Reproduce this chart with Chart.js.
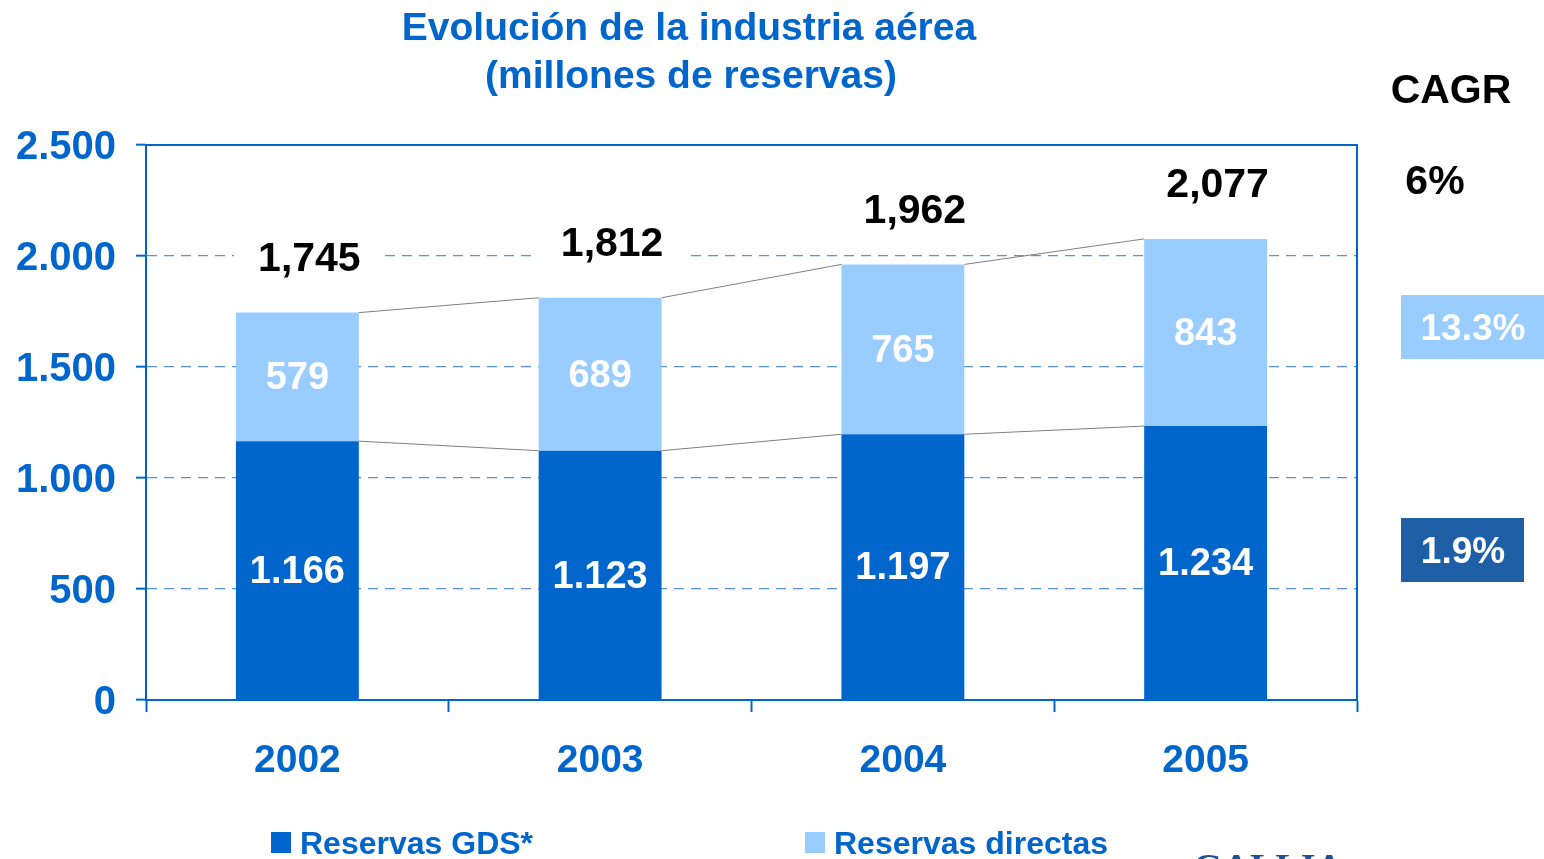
<!DOCTYPE html>
<html>
<head>
<meta charset="utf-8">
<script src="https://cdn.jsdelivr.net/npm/chart.js@4.4.1/dist/chart.umd.min.js"></script>
<style>
  html, body { margin: 0; padding: 0; background: #fff; overflow: hidden; }
  canvas { display: block; }
</style>
</head>
<body>
<canvas id="reservasChart" width="1544" height="859"></canvas>
<script>
// data
const years = ['2002', '2003', '2004', '2005'];
const reservasGds = [1166, 1123, 1197, 1234];
const reservasDirectas = [579, 689, 765, 843];
const yTicks = [0, 500, 1000, 1500, 2000, 2500];
const titleLines = ['Evolución de la industria aérea', '(millones de reservas)'];
const cagrLabel = 'CAGR';
const cagrTotal = '6%';
const cagrDirectas = '13.3%';
const cagrGds = '1.9%';

const FONT = '"Liberation Sans", Arial, Helvetica, sans-serif';
const BLUE = '#0066CC';
const LIGHT = '#99CCFF';
const DARK_BOX = '#1E5FA6';

// 1166 -> "1.166", used for ticks and segments
function dotFmt(v) {
  return String(v).replace(/\B(?=(\d{3})+(?!\d))/g, '.');
}
// totals use a comma
function commaFmt(v) {
  return String(v).replace(/\B(?=(\d{3})+(?!\d))/g, ',');
}

const extras = {
  id: 'extras',
  beforeDatasetsDraw(chart) {
    const { ctx, chartArea: a } = chart;
    // frame: top and right edge
    ctx.save();
    ctx.strokeStyle = BLUE;
    ctx.lineWidth = 2;
    ctx.beginPath();
    ctx.moveTo(a.left, a.top);
    ctx.lineTo(a.right, a.top);
    ctx.lineTo(a.right, a.bottom);
    ctx.stroke();
    ctx.restore();
  },
  afterDatasetsDraw(chart) {
    const { ctx } = chart;
    const gdsBars = chart.getDatasetMeta(0).data;
    const dirBars = chart.getDatasetMeta(1).data;

    // thin connectors between bar tops
    ctx.save();
    ctx.strokeStyle = '#7f7f7f';
    ctx.lineWidth = 1;
    [gdsBars, dirBars].forEach(bars => {
      for (let i = 0; i < bars.length - 1; i++) {
        const b = bars[i], n = bars[i + 1];
        ctx.beginPath();
        ctx.moveTo(b.x + b.width / 2, b.y);
        ctx.lineTo(n.x - n.width / 2, n.y);
        ctx.stroke();
      }
    });
    ctx.restore();

    // labels inside segments
    ctx.save();
    ctx.fillStyle = '#fff';
    ctx.textAlign = 'center';
    ctx.textBaseline = 'middle';
    ctx.font = 'bold 38px ' + FONT;
    gdsBars.forEach((b, i) => {
      ctx.fillText(dotFmt(reservasGds[i]), b.x, (b.y + b.base) / 2 + 2);
    });
    dirBars.forEach((b, i) => {
      ctx.fillText(dotFmt(reservasDirectas[i]), b.x, (b.y + b.base) / 2 + 2);
    });

    // totals above each bar, on a white patch over the grid
    ctx.font = 'bold 41px ' + FONT;
    dirBars.forEach((b, i) => {
      const txt = commaFmt(reservasGds[i] + reservasDirectas[i]);
      const w = ctx.measureText(txt).width;
      const cy = b.y - 55;
      ctx.fillStyle = '#fff';
      ctx.fillRect(b.x - w / 2 - 24 + 12, cy - 20, w + 48, 40);
      ctx.fillStyle = '#000';
      ctx.fillText(txt, b.x + 12, cy + 2);
    });
    ctx.restore();
  },
  afterDraw(chart) {
    const { ctx } = chart;
    ctx.save();
    ctx.textBaseline = 'middle';
    ctx.textAlign = 'center';

    // title
    ctx.fillStyle = BLUE;
    ctx.font = 'bold 39px ' + FONT;
    ctx.fillText(titleLines[0], 689, 29);
    ctx.fillText(titleLines[1], 691, 77);

    // CAGR column
    ctx.fillStyle = '#000';
    ctx.font = 'bold 41px ' + FONT;
    ctx.fillText(cagrLabel, 1451, 92);
    ctx.fillText(cagrTotal, 1435, 183);

    ctx.fillStyle = LIGHT;
    ctx.fillRect(1401, 295, 143, 64);
    ctx.fillStyle = DARK_BOX;
    ctx.fillRect(1401, 518, 123, 64);
    ctx.fillStyle = '#fff';
    ctx.font = 'bold 37px ' + FONT;
    ctx.fillText(cagrDirectas, 1473, 330);
    ctx.fillText(cagrGds, 1463, 553);

    // legend
    ctx.textAlign = 'left';
    ctx.font = 'bold 32px ' + FONT;
    const items = [
      { label: chart.data.datasets[0].label, color: BLUE, x: 271 },
      { label: chart.data.datasets[1].label, color: LIGHT, x: 805 }
    ];
    items.forEach(it => {
      ctx.fillStyle = it.color;
      ctx.fillRect(it.x, 832, 20, 21);
      ctx.fillStyle = BLUE;
      ctx.fillText(it.label, it.x + 29, 845);
    });

    // logo text cut by the bottom edge
    ctx.fillStyle = '#1F4E9A';
    ctx.font = 'bold 38px "Liberation Serif", "DejaVu Serif", serif';
    ctx.textBaseline = 'alphabetic';
    ctx.fillText('GALLIA', 1193, 880);
    ctx.restore();
  }
};

const ctx = document.getElementById('reservasChart').getContext('2d');
new Chart(ctx, {
  type: 'bar',
  data: {
    labels: years,
    datasets: [
      { label: 'Reservas GDS*', data: reservasGds, backgroundColor: BLUE, borderWidth: 0 },
      { label: 'Reservas directas', data: reservasDirectas, backgroundColor: LIGHT, borderWidth: 0 }
    ]
  },
  options: {
    responsive: false,
    animation: false,
    barPercentage: 0.406,
    categoryPercentage: 1,
    layout: { padding: { top: 145, right: 187, bottom: 59, left: 0 } },
    plugins: {
      legend: { display: false },
      title: { display: false },
      tooltip: { enabled: false }
    },
    scales: {
      x: {
        stacked: true,
        grid: {
          offset: true,
          drawOnChartArea: false,
          drawTicks: true,
          tickLength: 12,
          tickColor: BLUE,
          tickWidth: 2
        },
        border: { color: BLUE, width: 2 },
        ticks: {
          color: BLUE,
          padding: 26,
          font: { family: FONT, size: 39, weight: 'bold' }
        },
        afterFit(scale) { scale.height = 100; }
      },
      y: {
        stacked: true,
        min: yTicks[0],
        max: yTicks[yTicks.length - 1],
        afterBuildTicks(scale) {
          scale.ticks = yTicks.map(v => ({ value: v }));
        },
        grid: {
          color: c => (c.tick && (c.tick.value === 0 || c.tick.value === 2500)) ? 'rgba(0,0,0,0)' : '#5A92D8',
          lineWidth: 1.3,
          tickLength: 10,
          tickColor: BLUE,
          tickWidth: 2
        },
        border: { color: BLUE, width: 2, dash: [10, 7] },
        ticks: {
          color: BLUE,
          padding: 20,
          labelOffset: 3,
          font: { family: FONT, size: 40, weight: 'bold' },
          callback: v => dotFmt(v)
        },
        afterFit(scale) { scale.width = 146; }
      }
    }
  },
  plugins: [extras]
});
</script>
</body>
</html>
